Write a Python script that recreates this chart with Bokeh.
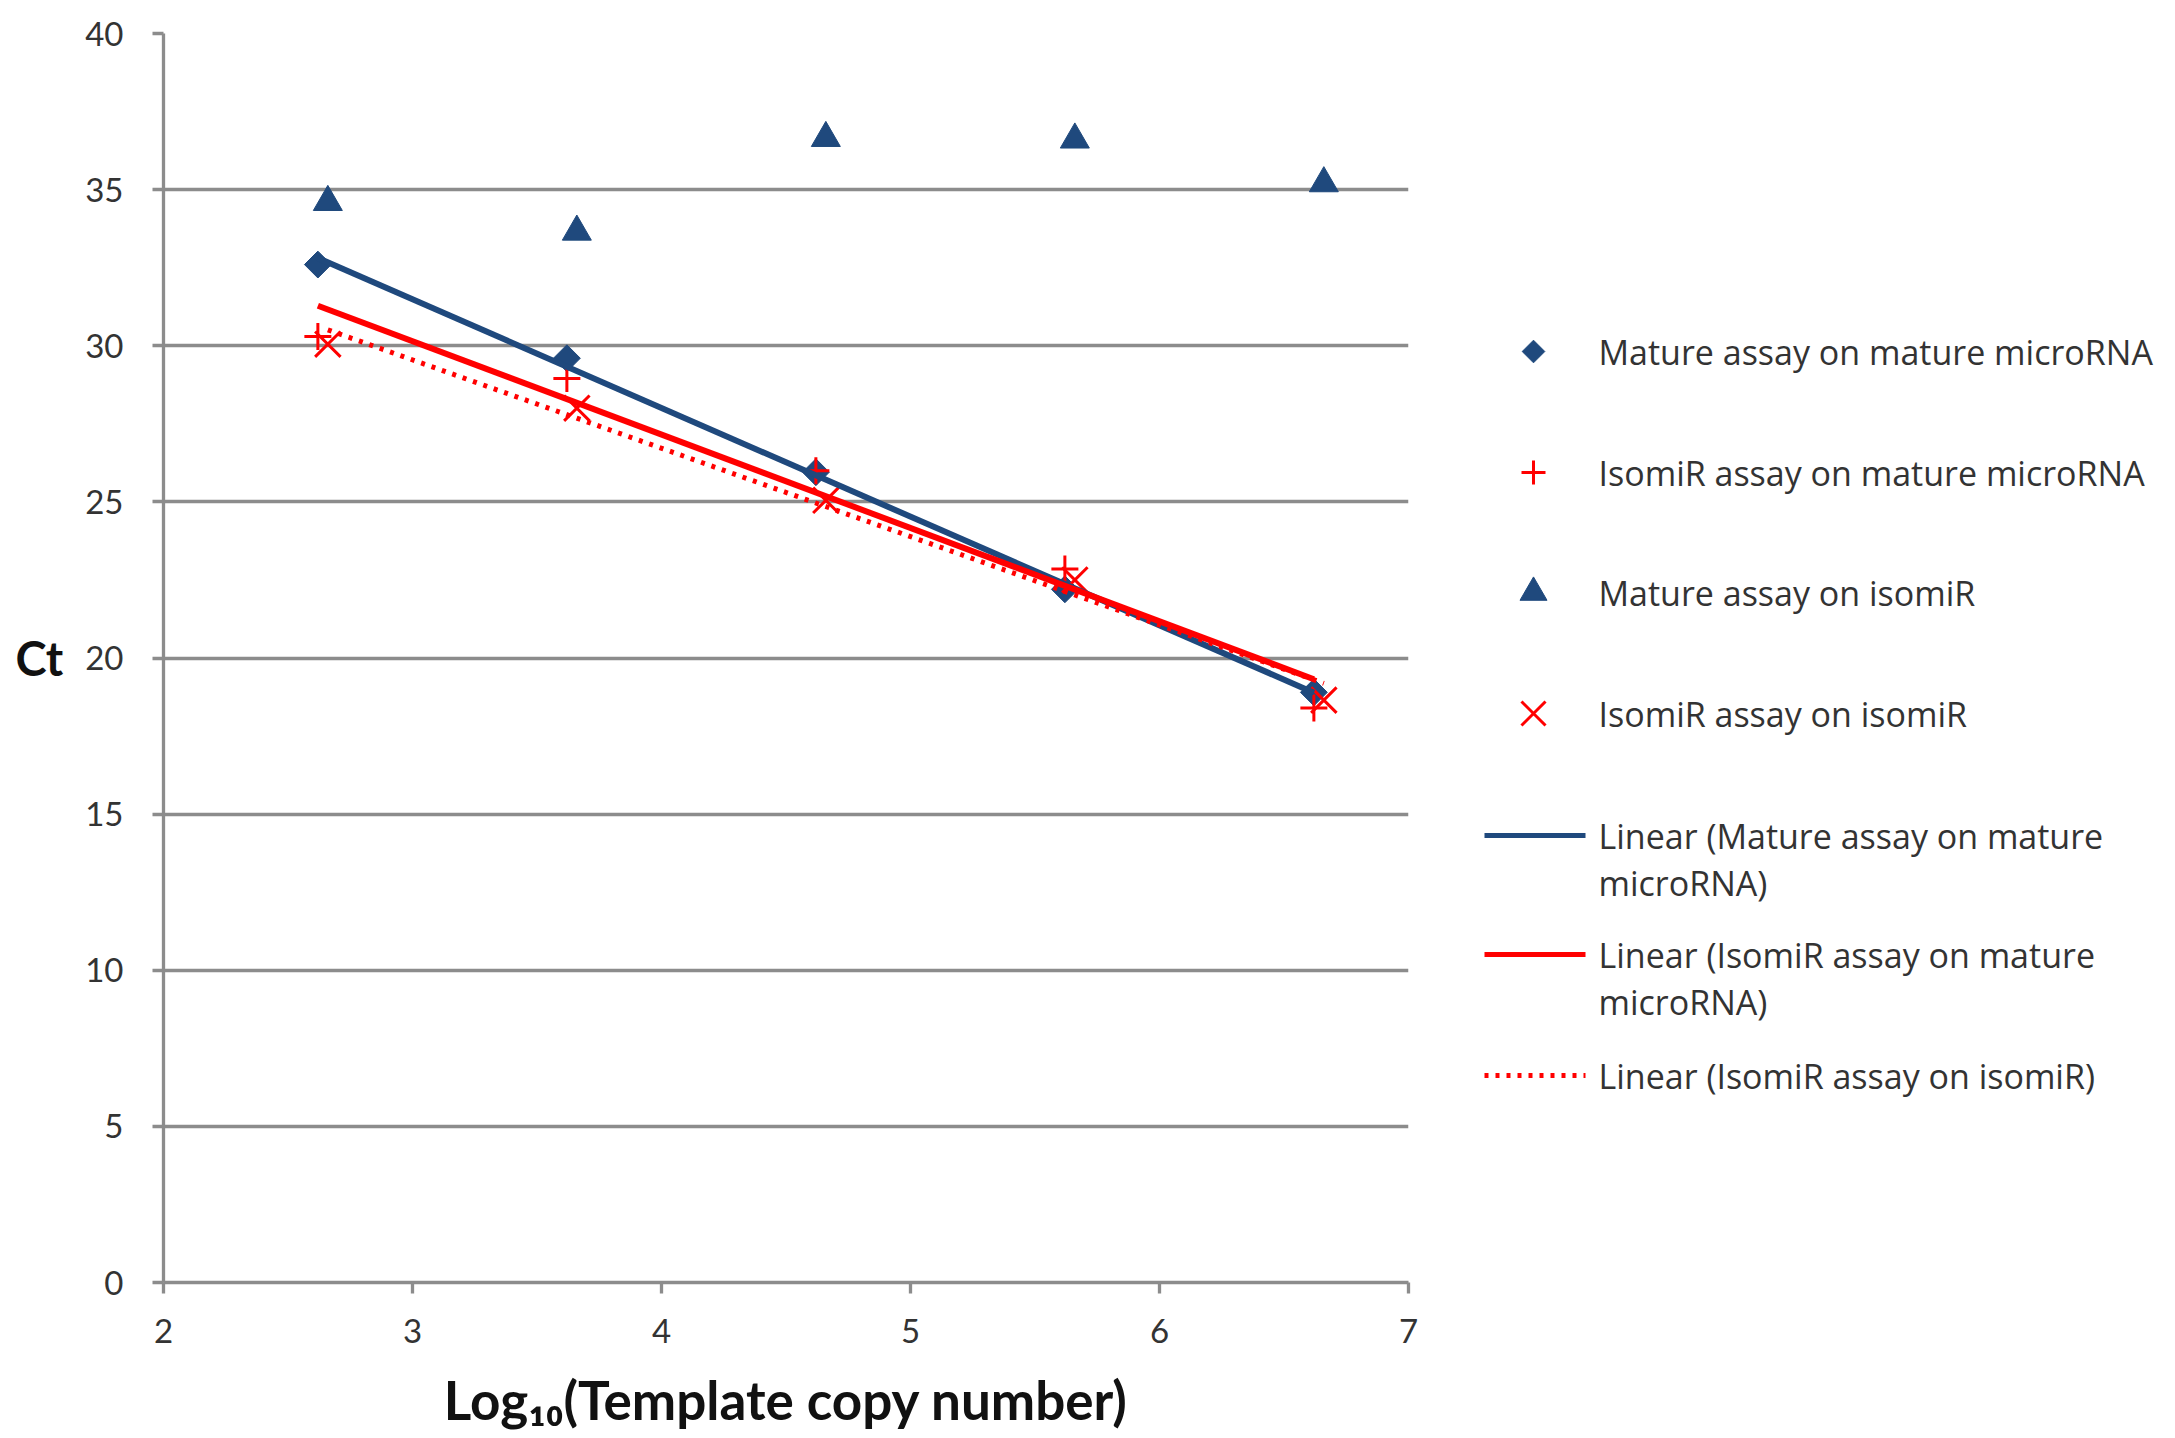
import numpy as np
from bokeh.plotting import figure
from bokeh.layouts import row
from bokeh.models import Range1d, FixedTicker
from bokeh.core.properties import value
from bokeh.embed import file_html
from bokeh.resources import INLINE

# ---- data ----
x_mature = [2.62, 3.62, 4.62, 5.62, 6.62]
x_isomir = [2.66, 3.66, 4.66, 5.66, 6.66]
ct_mature_on_mature = [32.6, 29.6, 25.95, 22.2, 18.9]
ct_isomir_on_mature = [30.3, 28.95, 26.0, 22.85, 18.4]
ct_mature_on_isomir = [34.6, 33.65, 36.65, 36.6, 35.2]
ct_isomir_on_isomir = [30.05, 28.0, 25.05, 22.5, 18.65]

y_ticks = [0, 5, 10, 15, 20, 25, 30, 35, 40]
x_ticks = [2, 3, 4, 5, 6, 7]

legend_labels = [
    "Mature assay on mature microRNA",
    "IsomiR assay on mature microRNA",
    "Mature assay on isomiR",
    "IsomiR assay on isomiR",
    "Linear (Mature assay on mature\nmicroRNA)",
    "Linear (IsomiR assay on mature\nmicroRNA)",
    "Linear (IsomiR assay on isomiR)",
]

BLUE = "#1F497D"
RED = "#FF0000"
GRID = "#8C8C8C"
TXT = "#333333"
FONT = "Lato"

W_MAIN, H = 1460, 1438
W_LEG = 712
FR_TOP, FR_BOT = 33, 1282   # frame edges in page pixels

p = figure(width=W_MAIN, height=H, x_range=Range1d(2, 7), y_range=Range1d(0, 40),
           output_backend="svg", toolbar_location=None,
           min_border_left=163, min_border_right=W_MAIN - 1408,
           min_border_top=FR_TOP, min_border_bottom=H - FR_BOT)
p.outline_line_color = None
p.background_fill_color = "white"
p.xgrid.visible = False
p.ygrid.grid_line_color = GRID
p.ygrid.grid_line_width = 3.3
p.ygrid.ticker = FixedTicker(ticks=y_ticks)

for ax in (p.xaxis[0], p.yaxis[0]):
    ax.axis_line_color = GRID
    ax.axis_line_width = 3.3
    ax.major_tick_line_color = GRID
    ax.major_tick_line_width = 3.3
    ax.major_tick_in = 0
    ax.major_tick_out = 11
    ax.minor_tick_line_color = None
    ax.major_label_text_font = FONT
    ax.major_label_text_font_size = "33px"
    ax.major_label_text_color = TXT
    ax.axis_label_text_font = FONT
    ax.axis_label_text_font_style = "bold"
    ax.axis_label_text_color = "#111111"

p.yaxis.ticker = FixedTicker(ticks=y_ticks)
p.xaxis.ticker = FixedTicker(ticks=x_ticks)
p.yaxis.major_label_standoff = 29
p.xaxis.major_label_standoff = 25
p.yaxis.axis_label = "Ct"
p.yaxis.axis_label_orientation = "horizontal"
p.yaxis.axis_label_text_font_size = "47px"
p.yaxis.axis_label_standoff = 19
p.xaxis.axis_label = "Log\u2081\u2080(Template copy number)"
p.xaxis.axis_label_text_font_size = "53px"
p.xaxis.axis_label_standoff = 22

# markers
p.scatter(x_mature, ct_mature_on_mature, marker="square", angle=np.pi / 4, size=19,
          fill_color=BLUE, line_color=BLUE)
p.scatter(x_mature, ct_isomir_on_mature, marker="cross", size=27,
          line_color=RED, line_width=3)
p.scatter(x_isomir, ct_mature_on_isomir, marker="triangle", size=29,
          fill_color=BLUE, line_color=BLUE)
p.scatter(x_isomir, ct_isomir_on_isomir, marker="x", size=36,
          line_color=RED, line_width=3)

# linear trendlines (least squares fits of the series)
def trend(xs, ys):
    k, b = np.polyfit(xs, ys, 1)
    xe = [min(xs), max(xs)]
    return xe, [k * xe[0] + b, k * xe[1] + b]

tx, ty = trend(x_mature, ct_mature_on_mature)
p.line(tx, ty, line_color=BLUE, line_width=6)
tx, ty = trend(x_mature, ct_isomir_on_mature)
p.line(tx, ty, line_color=RED, line_width=6)
tx, ty = trend(x_isomir, ct_isomir_on_isomir)
p.line(tx, ty, line_color=RED, line_width=5, line_dash="4 7")

# ---- legend panel (coordinates = page pixels) ----
q = figure(width=W_LEG, height=H, x_range=Range1d(W_MAIN, W_MAIN + W_LEG),
           y_range=Range1d(FR_BOT, FR_TOP),
           output_backend="svg", toolbar_location=None, min_border=0,
           x_axis_location=None, y_axis_location=None)
q.outline_line_color = None
q.xgrid.visible = False
q.ygrid.visible = False

row_y = [351, 472, 592, 713, 835, 954, 1075]
mx, tx0, l0, l1 = 1533, 1598, 1484, 1585
line_gap = 47

q.scatter([mx], [row_y[0]], marker="square", angle=np.pi / 4, size=16, fill_color=BLUE, line_color=BLUE)
q.scatter([mx], [row_y[1]], marker="cross", size=24, line_color=RED, line_width=3)
q.scatter([mx], [row_y[2]], marker="triangle", size=27, fill_color=BLUE, line_color=BLUE)
q.scatter([mx], [row_y[3]], marker="x", size=34, line_color=RED, line_width=3)
q.line([l0, l1], [row_y[4], row_y[4]], line_color=BLUE, line_width=5)
q.line([l0, l1], [row_y[5], row_y[5]], line_color=RED, line_width=5)
q.line([l0, l1], [row_y[6], row_y[6]], line_color=RED, line_width=5, line_dash="4 7")

lx, ly, lt = [], [], []
for yy, lab in zip(row_y, legend_labels):
    for i, part in enumerate(lab.split("\n")):
        lx.append(tx0)
        ly.append(yy + i * line_gap)
        lt.append(part)
q.text(lx, ly, text=lt, text_font=value("Open Sans"), text_font_size="34px",
       text_color=TXT, text_baseline="middle", text_align="left")

layout = row(p, q, spacing=0)
open("out.html", "w").write(file_html(layout, INLINE))
